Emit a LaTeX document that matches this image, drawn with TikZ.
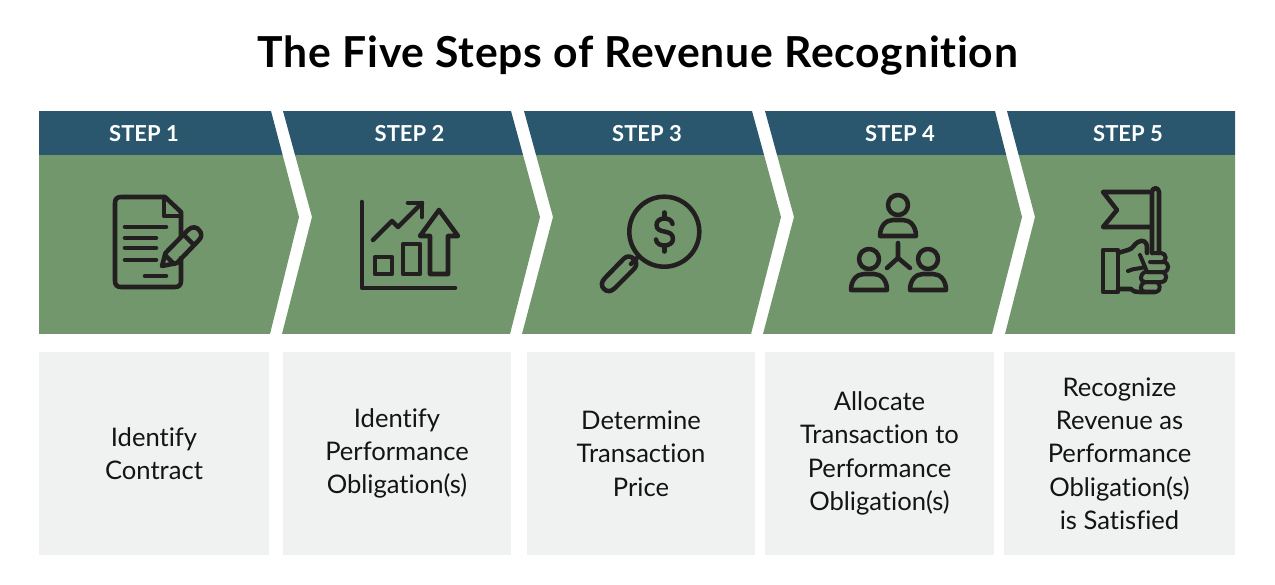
\documentclass[tikz,border=0pt]{standalone}
\usepackage{fontspec}
\setmainfont{Lato}[Ligatures=NoCommon]
\definecolor{chevgreen}{HTML}{72976C}
\definecolor{headblue}{HTML}{2A566E}
\definecolor{boxgrey}{HTML}{F0F1F1}
\definecolor{ink}{HTML}{231F20}
\tikzset{
  icon/.style={draw=ink,line width=3.4pt,line cap=round,line join=round},
  thinicon/.style={draw=ink,line width=3pt,line cap=round,line join=round},
  titletext/.style={font=\fontsize{32}{36}\selectfont\bfseries\addfontfeatures{LetterSpace=1.8},text=black},
  headtext/.style={font=\fontsize{16.5}{18}\selectfont\bfseries,text=white},
  infobox/.style={fill=boxgrey,inner sep=0pt,align=center,minimum height=152.25pt,
    font=\fontsize{19.2}{25}\selectfont,text=black!92}
}
\newcommand{\chevron}[6]{%
  \begin{scope}
    \clip (#1,111) -- (#4,111) -- (#5,217) -- (#6,334) -- (#3,334) -- (#2,217) -- cycle;
    \fill[chevgreen] (0,155) rectangle (1275,334);
    \fill[headblue] (0,111) rectangle (1275,155);
  \end{scope}}
\newcommand{\person}[2]{% head centre x, head centre y
  \draw[icon] (#1,#2) circle[radius=10];
  \draw[icon] (#1-18,#2+31) .. controls (#1-18,#2+21) and (#1-12,#2+15) .. (#1-5,#2+15)
     -- (#1+5,#2+15) .. controls (#1+12,#2+15) and (#1+18,#2+21) .. (#1+18,#2+31) -- cycle;}
\begin{document}
\begin{tikzpicture}[x=0.75pt,y=-0.75pt]
\useasboundingbox (0,0) rectangle (1275,585);
\fill[white] (0,0) rectangle (1275,585);
\node[titletext] (title) at (638,56) {The Five Steps of Revenue Recognition};

\chevron{39}{39}{39}{271}{299}{270}
\chevron{283}{312}{282}{511}{540}{510}
\chevron{524}{553}{522}{752}{781}{751}
\chevron{765}{794}{763}{995}{1022}{992}
\chevron{1007}{1035}{1005}{1235}{1235}{1235}

\node[headtext] (step1) at (144,133.5) {STEP 1};
\node[headtext] (step2) at (409.5,133.5) {STEP 2};
\node[headtext] (step3) at (647,133.5) {STEP 3};
\node[headtext] (step4) at (900,133.5) {STEP 4};
\node[headtext] (step5) at (1128,133.5) {STEP 5};

\node[infobox,minimum width=172.5pt] (box1) at (154,453.5) {Identify\\Contract};
\node[infobox,minimum width=171pt] (box2) at (397,453.5) {Identify\\Performance\\Obligation(s)};
\node[infobox,minimum width=171pt] (box3) at (641,453.5) {Determine\\Transaction\\Price};
\node[infobox,minimum width=171.75pt] (box4) at (879.5,453.5) {Allocate\\Transaction to\\Performance\\Obligation(s)};
\node[infobox,minimum width=173.25pt] (box5) at (1119.5,453.5) {Recognize\\Revenue as\\Performance\\Obligation(s)\\is Satisfied};

% icon 1: document and pencil
\draw[icon] (181,236) -- (181,212) -- (165,197) -- (121,197)
   .. controls (117,197) and (115,199) .. (115,203) -- (115,281)
   .. controls (115,285) and (117,287) .. (121,287) -- (175,287)
   .. controls (179,287) and (181,285) .. (181,281) -- (181,258);
\draw[icon] (164,197) -- (164,216) -- (181,216);
\draw[icon] (125,227) -- (166,227);
\draw[icon] (125,238) -- (156,238);
\draw[icon] (125,248) -- (156,248);
\draw[icon] (125,260) -- (156,260);
\draw[icon] (145,276) -- (166,276);
\draw[icon] (162,266) -- (165.5,253) -- (188,230)
   .. controls (192,226) and (197,227) .. (199,230)
   .. controls (202,233) and (202,237) .. (199,240) -- (177,263) -- cycle;
\draw[icon] (184,235) -- (194,245);
\draw[icon] (165,255) -- (174,264);

% icon 2: chart and arrows
\draw[icon] (362,202) -- (362,288) -- (455,288);
\draw[icon] (375,257) rectangle (392,274);
\draw[icon] (403,244) rectangle (420,274);
\draw[icon] (430,274) -- (430,236) -- (420,236) -- (439,210) -- (458,236) -- (448,236) -- (448,274) -- cycle;
\draw[icon] (373,240) -- (392,221) -- (398,227) -- (422,203);
\draw[icon] (408,203) -- (422,203) -- (422,217);

% icon 3: magnifier and dollar
\draw[icon] (664.3,231.7) circle[radius=35];
\draw[icon] (638,257) -- (631,264);
\draw[icon] (624,258.5) .. controls (627,255.5) and (631,256) .. (634,259)
   .. controls (637,262) and (637,266) .. (634,269) -- (615,288)
   .. controls (611,292) and (607,292) .. (604,289)
   .. controls (601,286) and (601,282) .. (605,278) -- cycle;
\draw[icon] (672.5,224) .. controls (672,220) and (668,218.5) .. (664.5,218.5)
   .. controls (660,218.5) and (656.5,221) .. (656.5,225)
   .. controls (656.5,235) and (673,228) .. (673,239)
   .. controls (673,243) and (669,245.5) .. (664.5,245.5)
   .. controls (660,245.5) and (656.5,243.5) .. (656,239.5);
\draw[icon] (664.5,212.5) -- (664.5,218.5);
\draw[icon] (664.5,245.5) -- (664.5,251.5);

% icon 4: three people
\person{898}{205}
\person{869}{259}
\person{928}{259}
\draw[icon] (898,243) -- (898,258) -- (887,268);
\draw[icon] (898,258) -- (910,268);

% icon 5: hand and flag
\draw[icon] (1152,253) -- (1152,192) .. controls (1152,187) and (1159,187) .. (1159,192) -- (1159,253);
\draw[icon] (1152,192) -- (1103,192) -- (1117,210) -- (1103,227) -- (1152,227);
\draw[icon] (1103,250) rectangle (1118,292);
\draw[icon] (1118,253) -- (1128,250) .. controls (1133,249) and (1134,244) .. (1138,242)
   .. controls (1143,239) and (1147,242) .. (1147,247) -- (1147,253);
\draw[icon] (1118,289) -- (1131,289) .. controls (1134,292) and (1137,292) .. (1140,292) -- (1155,292);
\draw[thinicon] (1152,253) -- (1161,253) .. controls (1167,253) and (1167,262) .. (1162,262) -- (1150,262);
\draw[thinicon] (1152,262) -- (1163,262) .. controls (1170,262) and (1170,272) .. (1163,272) -- (1147,272);
\draw[thinicon] (1148,272) -- (1161,272) .. controls (1168,272) and (1168,282) .. (1161,282) -- (1145,282);
\draw[thinicon] (1145,282) -- (1156,282) .. controls (1161,282) and (1161,292) .. (1156,292);
\draw[thinicon] (1128,271) .. controls (1134,268) and (1140,269) .. (1145,267) -- (1140,255);
\draw[thinicon] (1145,267) -- (1147,272);
\draw[thinicon] (1145,282) .. controls (1140,282) and (1139,275) .. (1145,272);
\draw[thinicon] (1145,292) .. controls (1140,292) and (1139,284) .. (1145,282);
\end{tikzpicture}
\end{document}
